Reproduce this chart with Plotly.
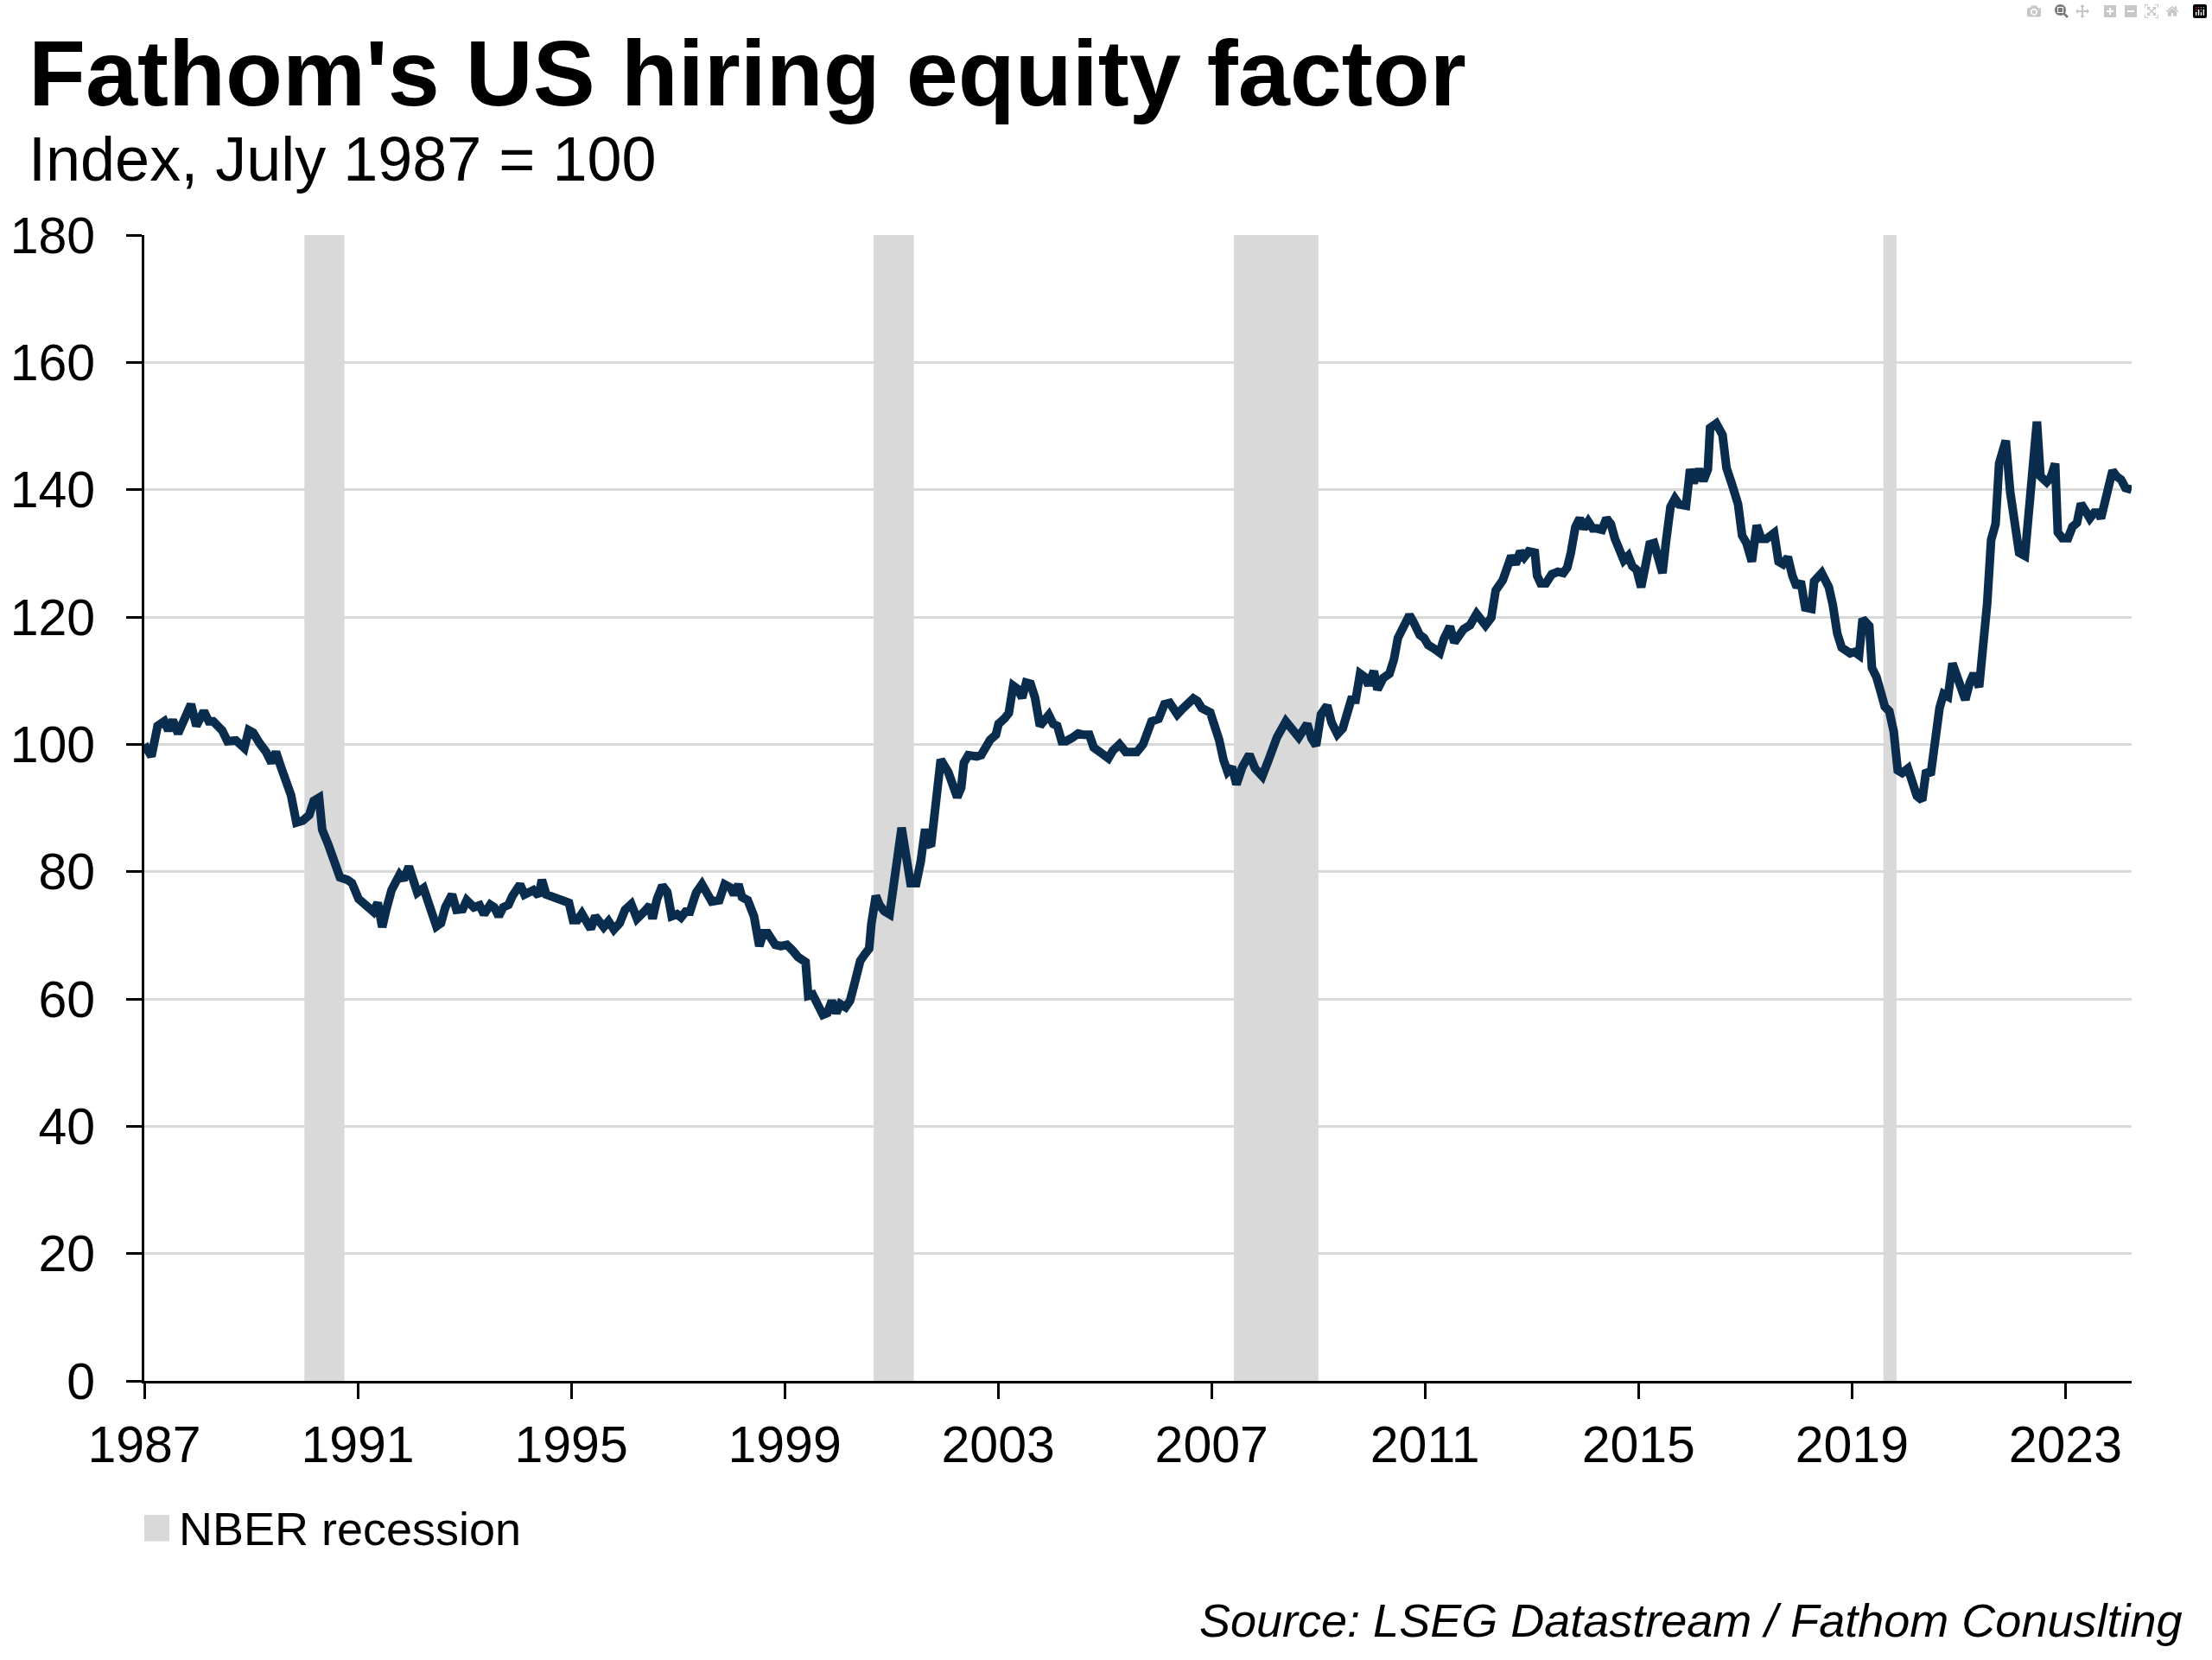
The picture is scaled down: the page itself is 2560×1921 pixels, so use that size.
import numpy as np
import pandas as pd
import plotly.graph_objects as go

# ---- data ----
start_date = "1987-07-01"  # index = 100
months_since_start = [
    0, 1.6, 3, 4.5, 5.4, 6.4, 7.6, 9, 10.5, 11.7, 13.4, 14.5, 15.5, 17.5, 18.7, 20.6, 22.5, 23.5, 24.5, 25.9,
    27.4, 28.6, 29.6, 30.7, 31.7, 33, 34.2, 35.6, 37.1, 38.1, 39.3, 40, 41.4, 42.8, 44, 45.7, 46.7, 48.2, 49.8, 51.5,
    52.5, 53.5, 54.4, 55.6, 57.4, 58.3, 59.5, 60.3, 61.4, 62.8, 64.2, 65.7, 66.7, 67.7, 69.2, 70.2, 71.6, 72.5, 74.1,
    75.4, 76.4, 77.8, 78.7, 79.7, 80.7, 81.9, 82.8, 84.5, 85.5, 87.5, 88.7, 89.4, 90.4, 92, 93.5, 95.5, 96.4, 97.4,
    98.4, 99.4, 100.4, 101.4, 102.3, 103.3, 104.4, 105.6, 106.9, 108.1, 109.5, 110.8, 112.4, 113.7, 114.3, 115.3,
    116.5, 117.6, 118.6, 119.8, 120.7, 121.7, 122.7, 124.1, 125.4, 126.6, 127.6, 129.3, 130.5, 131.8, 132.6, 133.6,
    134.4, 135.7, 137.1, 138.3, 139.2, 140.2, 141.9, 143.1, 144.5, 145.8, 147, 148.7, 149.3, 150.3, 151.6, 152.6,
    153.6, 154.6, 155.6, 156.5, 157.7, 158.7, 159.6, 161, 162, 163, 163.5, 164.5, 165.3, 166.4, 167.6, 169.2, 170.3,
    171.3, 172.3, 173.6, 174.6, 175.6, 176.2, 176.9, 177.9, 179.1, 180.8, 181.8, 182.8, 183.7, 184.3, 185.3, 186.3,
    187.2, 188.2, 189.2, 190.2, 191.5, 192.1, 193.5, 194.4, 195.4, 196.4, 197.4, 198.3, 199.3, 200.3, 201.4, 202.4,
    203.4, 204.4, 205.3, 206.3, 207.3, 208.6, 210, 211.2, 212.5, 213.5, 214.9, 215.8, 216.8, 217.8, 219.3, 220.7,
    221.9, 223.2, 224.6, 225.5, 226.5, 228.1, 229.4, 230.6, 232.3, 233.5, 234.9, 235.9, 236.8, 237.8, 239.7, 240.7,
    241.7, 242.7, 243.6, 244.6, 245.6, 246.9, 248.5, 249.8, 251.4, 252.8, 254.7, 256.7, 257.8, 259.6, 261.5, 262.5,
    263.5, 264.6, 266, 267, 268.3, 269.5, 271.4, 272.4, 273.4, 274.4, 275.3, 276.5, 277.3, 278.6, 280, 281, 281.9,
    283.1, 284.5, 285.4, 286.8, 287.8, 288.7, 289.9, 291.3, 292.2, 293.6, 294.6, 295.8, 296.7, 298.1, 299.6, 300.6,
    301.6, 302.9, 303.9, 305.5, 306.4, 307.4, 308.4, 309.4, 310.3, 311.3, 312.7, 313.2, 314, 315.2, 316.5, 317.9,
    319.1, 320, 320.8, 321.8, 322.8, 323.7, 324.7, 325.7, 326.7, 327.8, 328.8, 329.8, 330.7, 331.7, 332.7, 333.7,
    334.6, 335.6, 336.6, 337.5, 338.5, 339.5, 340.5, 341.4, 342.2, 343.2, 344.2, 345.1, 346.7, 347.6, 348.4, 349.6,
    350.6, 351.6, 352.1, 353.5, 354.9, 355.8, 357, 358.4, 359.3, 360.3, 361.5, 362.6, 363.6, 364.8, 366.5, 367.5,
    368.5, 369.6, 370.6, 371.6, 372.5, 373.5, 374.9, 375.5, 377.2, 378.8, 379.7, 380.7, 381.7, 382.7, 383.6, 384.6,
    385.6, 386.4, 387.1, 387.9, 388.5, 389.5, 390.4, 391.4, 392.4, 393.4, 394.3, 395.3, 396.6, 397.6, 398.6, 399.8,
    400.7, 401.7, 402.7, 403.7, 404.6, 405.6, 406.6, 407.5, 408.5, 409.5, 410.5, 411.4, 412.6, 413.4, 414.4, 415.3,
    416.3, 417.1, 418.6, 419.6, 420.6, 421.6, 422.9, 423.9, 424.9, 425.6, 426.4, 427.8, 428.7, 429.7, 430.3, 431.3,
    432.6, 433.6, 434.6, 435.5, 436.5, 437.5, 438.5, 439.4, 440, 441, 442.6, 443.5, 444.5, 445.5, 446.9,
]
index_values = [
    100, 98.1, 102.9, 103.6, 102.2, 103.8, 101.7, 104, 106.3, 102.9, 105.2, 103.6, 103.6, 102.2, 100.5, 100.6, 99.4,
    102.2, 101.8, 100.2, 98.8, 97.1, 98.8, 96.5, 94.3, 92, 87.7, 88, 88.9, 91.1, 91.6, 86.6, 84.2, 81.4, 79.1, 78.7,
    78.2, 75.7, 74.8, 73.7, 75.1, 71.3, 74, 77.1, 79.5, 78.7, 80.8, 79.1, 76.7, 77.4, 74.8, 71.4, 71.9, 74.4, 76.4,
    74, 74.1, 75.5, 74.4,
    74.7, 73.3, 74.8, 74.4, 73, 74.4, 74.8, 76.2, 78, 76.4, 77.1, 76.2, 78.7, 76.4, 76, 75.7, 75.1, 72.4, 72.4,
    73.4, 72.1, 71, 73, 71.9, 71.3, 72.2, 70.9, 71.9, 74, 74.9, 72.6, 73.7, 74.7, 72.6, 75.7,
    77.8, 76.8, 73, 73.3, 72.8, 73.7, 73.7, 76.7, 78, 76.7, 75.3, 75.5, 78, 77.5, 76.4, 78,
    76, 75.5, 73, 68.3, 70.3, 70.3, 68.5, 68.3, 68.5, 67.6, 66.6, 65.8, 60.5, 60.7, 59.2, 57.5,
    57.8, 59.7, 57.8, 59.2, 58.7, 59.7, 62.1, 66, 67, 67.9, 71.8, 76.2, 74.8, 73.8, 73.3, 81.6, 86.9,
    82.5, 78.2, 78.2, 81.6, 86.7, 84.5, 84, 89.3, 97.6, 95.6, 93.9, 91.7, 93.2, 97.1, 98.3, 98.1,
    98.1, 98.3, 99.8, 100.7, 101.5, 103.2, 104.1, 104.9, 109.2, 108.7, 107.3, 109.7, 109.5, 107.3, 102.9, 103.9,
    104.6, 103.2, 102.9, 100.5, 100.5, 101, 101.7, 101.5, 101.5, 99.5, 98.8, 98.5, 97.8, 99, 100, 98.8,
    98.8, 98.8, 100, 101.9, 103.6, 104, 106.3, 106.5, 104.7, 105.6, 106.3, 107.2, 106.8, 105.7, 105, 103.2,
    100.7, 97.5, 95.7, 96.4, 93.7, 96.4, 98.4, 96.2, 95, 97.5, 101.1, 103.6, 102.7, 101.1, 103.2, 100.9,
    99.8, 104.7, 106.1, 103.4, 101.6, 102.5, 107, 107, 111.1, 110.6, 109.3, 111.5, 108.6, 110.4, 111.1, 113.3, 116.7,
    118.5, 120.3, 119.2, 117.2, 116.7, 115.6, 115.1, 114.4, 116.5, 118.5, 116, 117.2, 118.1, 118.7, 120.5, 119.6,
    118.7, 119.9, 124.2, 125.8, 127.4, 129.6, 128.3, 130.3, 129.4, 130.3, 130.1, 126.5, 125.3, 125.3, 126.7, 127.1,
    126.9, 127.8, 130.1, 134.1, 135.5, 133.9, 135, 133.9, 133.9, 133.7, 135.5, 134.6, 132.3, 130.5, 128.9, 129.6,
    128, 127.4, 124.7, 127.8, 131.4, 131.6, 128.5, 126.9, 131.9, 137.3, 138.6, 137.7, 137.5, 143.2, 141.1, 143.2,
    141.4, 143.2, 149.7, 150.4, 148.6, 143.4, 140.9, 137.7, 132.8, 131.6, 128.7, 134.4, 132.3, 132.3, 133.2, 128.7,
    128.3, 129.4, 126.5, 124.7, 125.6, 121.5, 121.3, 125.6, 126.9, 124.7, 121.9, 117.4, 115.2, 114.5, 114.3, 114.5,
    114, 119.7, 119.2, 118.6, 112, 110.6, 108.4, 105.9, 105.2, 102, 95.9, 95.5, 96.2, 93.9, 91.9, 91.2,
    95.9, 95.2, 101.1, 105.7, 107.9, 107.5, 112.7, 110.6, 108.4, 107, 109.7, 111.1, 109, 114.3, 122, 132.1,
    134.6, 144.1, 147.7, 139.6, 134.2, 130.1, 129.6, 137.8, 145.5, 150.7, 142.1, 141.2, 141.9, 144.1, 133.3, 132.4,
    132.4, 134.2, 134.8, 137.8, 136.7, 135.5, 136.4, 136.4, 135.5, 138.7, 143, 142.1, 141.6, 140.3, 140,
]
recession_start = ["1990-07-01", "2001-03-01", "2007-12-01", "2020-02-01"]
recession_end = ["1991-04-01", "2001-12-01", "2009-07-01", "2020-05-01"]
tick_years = [1987, 1991, 1995, 1999, 2003, 2007, 2011, 2015, 2019, 2023]
y_ticks = [0, 20, 40, 60, 80, 100, 120, 140, 160, 180]

# ---- build ----
dates = pd.Timestamp(start_date) + pd.to_timedelta(np.array(months_since_start) * 30.436875, unit="D")
tick_dates = [f"{y}-07-01" for y in tick_years]

FONT = "Liberation Sans, Arial, Helvetica, sans-serif"
LINE_COLOR = "#0b2d4d"
GREY = "#d9d9d9"

fig = go.Figure()
fig.add_trace(go.Scatter(
    x=dates, y=index_values, mode="lines",
    line=dict(color=LINE_COLOR, width=10),
    showlegend=False, hoverinfo="x+y",
))

shapes = []
for s, e in zip(recession_start, recession_end):
    shapes.append(dict(type="rect", xref="x", yref="y", x0=s, x1=e, y0=0, y1=180,
                       fillcolor=GREY, line=dict(width=0), layer="between"))
# legend swatch
shapes.append(dict(type="rect", xref="paper", yref="paper", x0=0.0, x1=0.0126,
                   y0=-0.1400, y1=-0.1170, fillcolor=GREY, line=dict(width=0)))

annotations = [
    dict(text="<b>Fathom's US hiring equity factor</b>", xref="paper", yref="paper",
         x=-0.0591, y=1.1413, xanchor="left", yanchor="middle", showarrow=False,
         font=dict(family=FONT, size=108, color="black")),
    dict(text="Index, July 1987 = 100", xref="paper", yref="paper",
         x=-0.0591, y=1.0664, xanchor="left", yanchor="middle", showarrow=False,
         font=dict(family=FONT, size=72, color="black")),
    dict(text="NBER recession", xref="paper", yref="paper",
         x=0.0165, y=-0.129, xanchor="left", yanchor="middle", showarrow=False,
         font=dict(family=FONT, size=54, color="black")),
    dict(text="<i>Source: LSEG Datastream / Fathom Conuslting</i>", xref="paper", yref="paper",
         x=1.0265, y=-0.2089, xanchor="right", yanchor="middle", showarrow=False,
         font=dict(family=FONT, size=54, color="black")),
]

fig.update_layout(
    width=2560, height=1921,
    margin=dict(l=167, r=93, t=272, b=323, pad=0),
    paper_bgcolor="white", plot_bgcolor="white",
    font=dict(family=FONT, color="black"),
    shapes=shapes, annotations=annotations,
    showlegend=False,
)
fig.update_xaxes(
    type="date",
    range=[dates[0], dates[-1]],
    tickvals=tick_dates, ticktext=[str(y) for y in tick_years],
    showgrid=False, zeroline=False,
    showline=True, linecolor="black", linewidth=3,
    ticks="outside", ticklen=18, tickwidth=3, tickcolor="black",
    tickfont=dict(family=FONT, size=59, color="black"),
    ticklabelstandoff=2, automargin=False,
)
fig.update_yaxes(
    range=[0, 180], tickvals=y_ticks,
    showgrid=True, gridcolor=GREY, gridwidth=3,
    zeroline=False,
    showline=True, linecolor="black", linewidth=3,
    ticks="outside", ticklen=18, tickwidth=3, tickcolor="black",
    tickfont=dict(family=FONT, size=59, color="black"),
    ticklabelstandoff=24, automargin=False,
)

fig.write_html("out.html", post_script="document.body.style.margin='0px';")
